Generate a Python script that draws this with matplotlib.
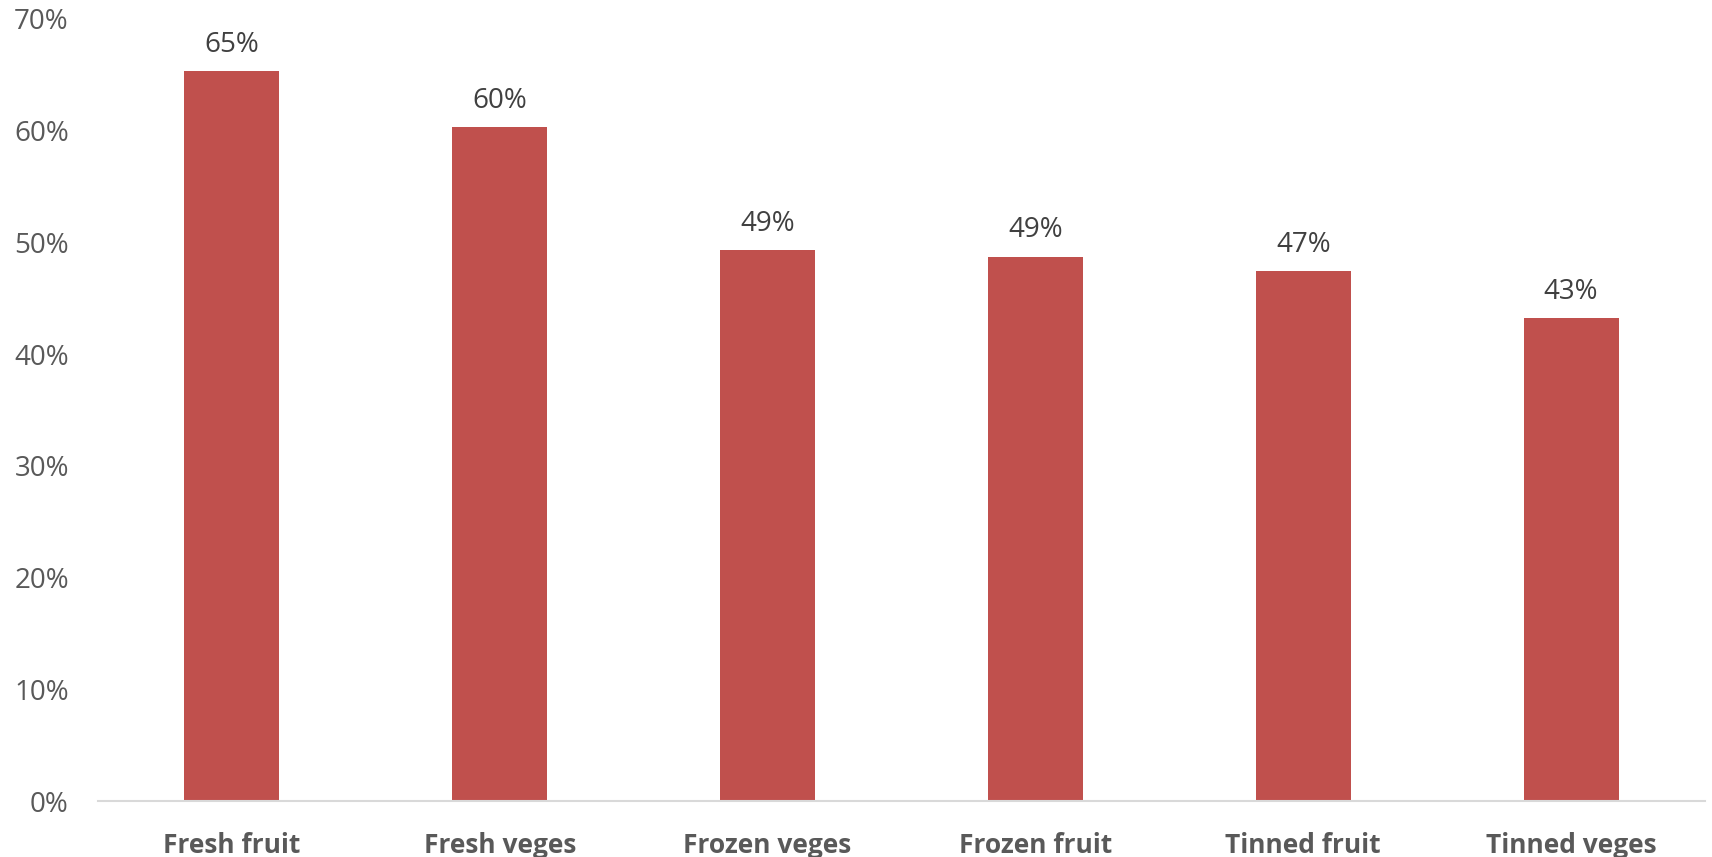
import matplotlib.pyplot as plt
from matplotlib.ticker import PercentFormatter

categories = ['Fresh fruit', 'Fresh veges', 'Frozen veges', 'Frozen fruit', 'Tinned fruit', 'Tinned veges']
values = [65.3, 60.3, 49.3, 48.7, 47.4, 43.2]
labels = ['65%', '60%', '49%', '49%', '47%', '43%']

plt.rcParams['font.family'] = ['Open Sans', 'DejaVu Sans']

fig = plt.figure(figsize=(17.12, 8.57), dpi=100)
ax = fig.add_axes([98 / 1712, 0.0653, 1607 / 1712, 0.9127])

x = range(len(categories))
bars = ax.bar(x, values, width=0.355, color='#C0504D', zorder=2)
for b, lab in zip(bars, labels):
    ax.annotate(lab, (b.get_x() + b.get_width() / 2, b.get_height()),
                xytext=(0, 9), textcoords='offset points', ha='center', va='bottom',
                fontsize=20, color='#404040')

ax.set_ylim(0, 70)
ax.set_xlim(-0.5, 5.5)
ax.set_yticks(range(0, 71, 10))
ax.yaxis.set_major_formatter(PercentFormatter(decimals=0))
ax.set_xticks(list(x))
ax.set_xticklabels(categories, fontsize=19, fontweight='bold', color='#595959')
ax.tick_params(axis='y', length=0, labelsize=20, labelcolor='#595959', pad=21)
ax.tick_params(axis='x', length=0, pad=22)

for s in ['top', 'right', 'left']:
    ax.spines[s].set_visible(False)
ax.spines['bottom'].set_color('#D9D9D9')
ax.spines['bottom'].set_linewidth(1.5)

fig.savefig('out.png', dpi=100)
